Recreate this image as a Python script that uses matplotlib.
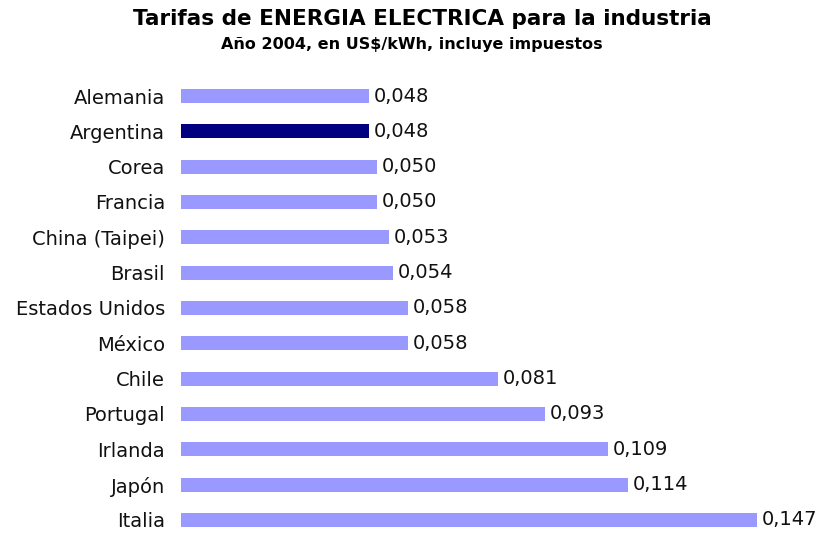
import matplotlib
matplotlib.use("Agg")
import matplotlib.pyplot as plt

# --- datos ---
paises = ["Alemania", "Argentina", "Corea", "Francia", "China (Taipei)", "Brasil",
          "Estados Unidos", "México", "Chile", "Portugal", "Irlanda", "Japón", "Italia"]
tarifas = [0.048, 0.048, 0.050, 0.050, 0.053, 0.054, 0.058, 0.058, 0.081, 0.093,
           0.109, 0.114, 0.147]
destacado = "Argentina"

W, H = 827, 533
fig = plt.figure(figsize=(W / 100, H / 100), dpi=100)
fig.patch.set_facecolor("white")

# ejes: x de 181px (0) a 757px (0.147)
ax = fig.add_axes([181 / W, 0, 576 / W, (533 - 78) / H])

colores = ["#000080" if p == destacado else "#9999FF" for p in paises]
y = range(len(paises))
ax.barh(y, tarifas, height=0.4, color=colores)

for i, v in enumerate(tarifas):
    ax.text(v + 0.0012, i, f"{v:.3f}".replace(".", ","), va="center", ha="left",
            fontsize=14, color="#111111", clip_on=False)

ax.set_xlim(0, 0.147)
ax.set_ylim(12.37, -0.51)
ax.set_yticks(list(y))
ax.set_yticklabels(paises, fontsize=14, color="#111111")
ax.tick_params(axis="y", length=0, pad=11.5)
ax.set_xticks([])
for s in ax.spines.values():
    s.set_visible(False)

fig.text(422 / W, 1 - 19 / H, "Tarifas de ENERGIA ELECTRICA para la industria",
         ha="center", va="center", fontsize=15.5, fontweight="bold")
fig.text(412 / W, 1 - 45 / H, "Año 2004, en US$/kWh, incluye impuestos",
         ha="center", va="center", fontsize=11.5, fontweight="bold")

fig.savefig("out.png", dpi=100, facecolor="white")
